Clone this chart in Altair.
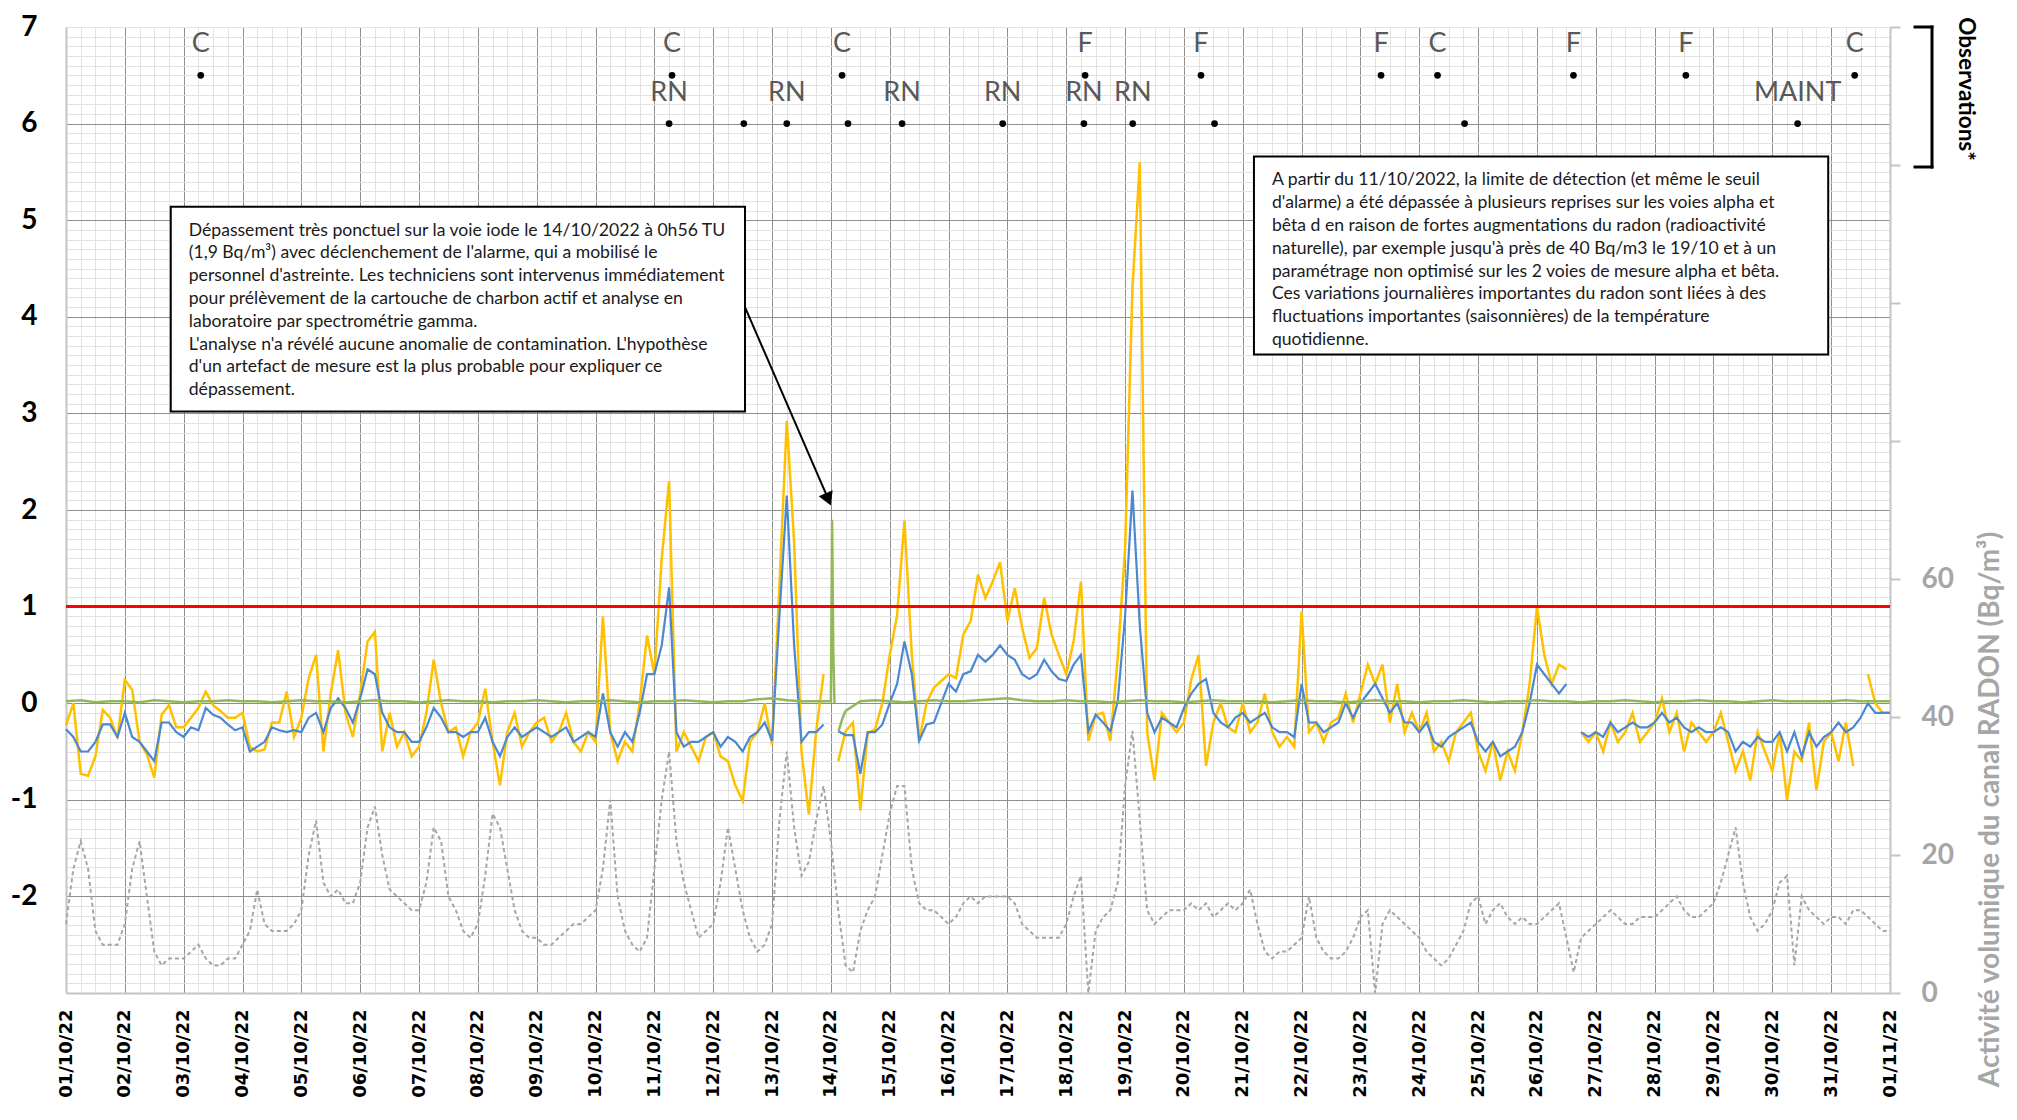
import json
import altair as alt
import pandas as pd

# ---------------- data ----------------
DAY_LABELS = ["01/10/22", "02/10/22", "03/10/22", "04/10/22", "05/10/22", "06/10/22",
              "07/10/22", "08/10/22", "09/10/22", "10/10/22", "11/10/22", "12/10/22",
              "13/10/22", "14/10/22", "15/10/22", "16/10/22", "17/10/22", "18/10/22",
              "19/10/22", "20/10/22", "21/10/22", "22/10/22", "23/10/22", "24/10/22",
              "25/10/22", "26/10/22", "27/10/22", "28/10/22", "29/10/22", "30/10/22",
              "31/10/22", "01/11/22"]

# 3-hourly values (8 per day), day offset from 01/10/22 00h
yellow = [
    -0.23, 0.0, -0.73, -0.75, -0.55, -0.07, -0.15, -0.36,
    0.24, 0.14, -0.4, -0.53, -0.77, -0.12, -0.02, -0.25,
    -0.25, -0.15, -0.05, 0.12, -0.02, -0.08, -0.15, -0.15,
    -0.1, -0.45, -0.5, -0.48, -0.2, -0.2, 0.12, -0.35,
    -0.15, 0.26, 0.5, -0.5, 0.1, 0.55, -0.1, -0.35,
    0.1, 0.64, 0.74, -0.5, -0.1, -0.45, -0.3, -0.55,
    -0.45, -0.1, 0.45, 0.0, -0.3, -0.25, -0.55, -0.3,
    -0.2, 0.15, -0.4, -0.85, -0.3, -0.1, -0.45, -0.3,
    -0.2, -0.15, -0.4, -0.3, -0.1, -0.4, -0.5, -0.3,
    -0.4, 0.9, -0.3, -0.6, -0.4, -0.5, 0.0, 0.7,
    0.3, 1.5, 2.3, -0.5, -0.3, -0.45, -0.6, -0.35,
    -0.3, -0.55, -0.6, -0.85, -1.01, -0.4, -0.3, 0.0,
    -0.43, 1.22, 2.92, 1.67, -0.5, -1.15, -0.29, 0.3,
    None, -0.6, -0.29, -0.2, -1.11, -0.31, -0.27, 0.0,
    0.5, 0.91, 1.89, 0.5, -0.39, 0.0, 0.16, 0.23,
    0.3, 0.26, 0.71, 0.85, 1.33, 1.09, 1.26, 1.46,
    0.85, 1.19, 0.78, 0.47, 0.57, 1.09, 0.71, 0.5,
    0.3, 0.64, 1.26, -0.39, -0.12, -0.1, -0.39, 0.47,
    1.6, 4.3, 5.6, -0.3, -0.8, -0.1, -0.2, -0.3,
    -0.2, 0.25, 0.5, -0.65, -0.2, 0.0, -0.25, -0.3,
    0.0, -0.3, -0.2, 0.1, -0.3, -0.45, -0.35, -0.45,
    0.95, -0.3, -0.2, -0.4, -0.2, -0.15, 0.1, -0.2,
    0.1, 0.4, 0.2, 0.4, -0.2, 0.2, -0.3, -0.1,
    -0.3, -0.1, -0.5, -0.4, -0.6, -0.3, -0.2, -0.1,
    -0.5, -0.7, -0.4, -0.8, -0.5, -0.7, -0.3, 0.2,
    1.0, 0.5, 0.2, 0.4, 0.35, None, -0.3, -0.4,
    -0.3, -0.5, -0.2, -0.4, -0.3, -0.1, -0.4, -0.3,
    -0.2, 0.05, -0.3, -0.1, -0.5, -0.2, -0.3, -0.4,
    -0.3, -0.1, -0.4, -0.7, -0.5, -0.8, -0.3, -0.5,
    -0.7, -0.3, -1.0, -0.5, -0.6, -0.2, -0.9, -0.4,
    -0.3, -0.6, -0.2, -0.65, None, 0.3, 0.0, -0.1,
    -0.1,
]

blue = [
    -0.27, -0.35, -0.5, -0.5, -0.4, -0.22, -0.22, -0.35,
    -0.1, -0.35, -0.4, -0.5, -0.6, -0.2, -0.2, -0.3,
    -0.35, -0.25, -0.28, -0.05, -0.12, -0.15, -0.22, -0.28,
    -0.25, -0.5, -0.45, -0.4, -0.25, -0.28, -0.3, -0.28,
    -0.3, -0.15, -0.1, -0.3, -0.05, 0.05, -0.05, -0.2,
    0.05, 0.35, 0.3, -0.1, -0.25, -0.3, -0.3, -0.4,
    -0.4, -0.25, -0.05, -0.15, -0.3, -0.3, -0.35, -0.3,
    -0.3, -0.15, -0.4, -0.55, -0.35, -0.25, -0.35, -0.3,
    -0.25, -0.3, -0.35, -0.3, -0.25, -0.4, -0.35, -0.3,
    -0.35, 0.1, -0.3, -0.45, -0.3, -0.4, -0.1, 0.3,
    0.3, 0.6, 1.2, -0.3, -0.45, -0.4, -0.4, -0.35,
    -0.3, -0.45, -0.35, -0.4, -0.5, -0.35, -0.3, -0.2,
    -0.39, 0.9, 2.15, 0.6, -0.4, -0.3, -0.3, -0.22,
    None, -0.29, -0.33, -0.33, -0.73, -0.3, -0.3, -0.22,
    0.0, 0.2, 0.64, 0.3, -0.39, -0.22, -0.2, 0.0,
    0.2, 0.12, 0.3, 0.33, 0.5, 0.43, 0.5, 0.6,
    0.5, 0.45, 0.3, 0.25, 0.3, 0.45, 0.33, 0.25,
    0.23, 0.4, 0.5, -0.29, -0.12, -0.2, -0.29, 0.02,
    0.9, 2.2, 0.8, -0.1, -0.3, -0.15, -0.2, -0.25,
    -0.05, 0.1, 0.2, 0.25, -0.1, -0.2, -0.25, -0.15,
    -0.1, -0.2, -0.15, -0.1, -0.25, -0.3, -0.3, -0.35,
    0.2, -0.2, -0.2, -0.3, -0.25, -0.2, 0.0, -0.15,
    0.0, 0.1, 0.2, 0.05, -0.1, 0.0, -0.2, -0.2,
    -0.3, -0.2, -0.4, -0.45, -0.35, -0.3, -0.25, -0.2,
    -0.4, -0.5, -0.4, -0.55, -0.5, -0.45, -0.3, 0.0,
    0.4, 0.3, 0.2, 0.1, 0.2, None, -0.3, -0.35,
    -0.3, -0.35, -0.2, -0.3, -0.25, -0.2, -0.25, -0.25,
    -0.2, -0.1, -0.2, -0.15, -0.25, -0.3, -0.25, -0.3,
    -0.3, -0.25, -0.3, -0.5, -0.4, -0.45, -0.35, -0.4,
    -0.4, -0.3, -0.5, -0.3, -0.55, -0.3, -0.45, -0.35,
    -0.3, -0.2, -0.3, -0.25, -0.15, 0.0, -0.1, -0.1,
    -0.1,
]

# radon channel (right axis, Bq/m3), 3-hourly
radon = [
    10, 18, 22, 18, 9, 7, 7, 7,
    10, 18, 22, 14, 6, 4, 5, 5,
    5, 6, 7, 5, 4, 4, 5, 5,
    7, 9, 15, 10, 9, 9, 9, 10,
    12, 20, 25, 16, 14, 15, 13, 13,
    16, 24, 27, 20, 15, 14, 13, 12,
    12, 16, 24, 22, 14, 12, 9, 8,
    10, 17, 26, 24, 18, 12, 9, 8,
    8, 7, 7, 8, 9, 10, 10, 11,
    12, 18, 28, 14, 9, 7, 6, 8,
    18, 28, 35, 22, 16, 12, 8, 9,
    10, 16, 24, 18, 12, 8, 6, 7,
    10, 25, 35, 24, 17, 19, 25, 30,
    22, 12, 4, 3, 9, 12, 14, 20,
    26, 30, 30, 18, 13, 12, 12, 11,
    10, 11, 13, 14, 13, 14, 14, 14,
    14, 13, 10, 9, 8, 8, 8, 8,
    10, 14, 17, 0, 9, 11, 12, 16,
    30, 38, 25, 12, 10, 11, 12, 12,
    12, 13, 12, 13, 11, 12, 13, 12,
    13, 15, 10, 6, 5, 6, 6, 7,
    8, 14, 8, 6, 5, 5, 6, 8,
    11, 12, 0, 10, 12, 11, 10, 9,
    8, 6, 5, 4, 5, 7, 9, 13,
    14, 10, 12, 13, 11, 10, 11, 10,
    10, 11, 12, 13, 8, 3, 8, 9,
    10, 11, 12, 11, 10, 10, 11, 11,
    11, 12, 13, 14, 12, 11, 11, 12,
    13, 16, 20, 24, 16, 11, 9, 10,
    12, 16, 17, 4, 14, 12, 11, 10,
    11, 11, 10, 12, 12, 11, 10, 9,
    9,
]

# iodine channel (green), 6-hourly
green = [
    0.02, 0.03, 0.01, 0.02,  0.02, 0.01, 0.03, 0.02,  0.01, 0.02, 0.02, 0.03,
    0.02, 0.02, 0.01, 0.02,  0.03, 0.02, 0.02, 0.01,  0.02, 0.03, 0.02, 0.02,
    0.01, 0.02, 0.03, 0.02,  0.02, 0.01, 0.02, 0.02,  0.03, 0.02, 0.01, 0.02,
    0.02, 0.03, 0.02, 0.01,  0.02, 0.02, 0.03, 0.02,  0.01, 0.02, 0.02, 0.04,
    0.05, 0.03, 0.02, 0.02,  0.02, -0.08, 0.02, 0.03,  0.02, 0.01, 0.02, 0.03,
    0.02, 0.02, 0.03, 0.04,  0.05, 0.03, 0.02, 0.02,  0.03, 0.02, 0.02, 0.01,
    0.02, 0.03, 0.02, 0.02,  0.01, 0.02, 0.03, 0.02,  0.02, 0.02, 0.01, 0.02,
    0.03, 0.02, 0.02, 0.01,  0.02, 0.03, 0.02, 0.02,  0.01, 0.02, 0.02, 0.03,
    0.02, 0.01, 0.02, 0.02,  0.03, 0.02, 0.02, 0.01,  0.02, 0.02, 0.03, 0.02,
    0.01, 0.02, 0.02, 0.03,  0.02, 0.02, 0.01, 0.02,  0.03, 0.02, 0.02, 0.02,
    0.02, 0.03, 0.02, 0.02,
    0.02,
]
# alarm event of 14/10 00h56 (extra points)
green_extra_t = [13.02, 13.04, 13.06, 13.09, 13.13, 13.2]
green_extra_v = [1.9, 0.57, 0.0, None, -0.29, -0.15]

# observations
obs_c_t = [2.29, 10.30, 13.19, 17.32, 19.29, 22.35, 23.31, 25.62, 27.53, 30.40]
obs_c_lbl = ["C", "C", "C", "F", "F", "F", "C", "F", "F", "C"]
obs_c_v = [6.5] * len(obs_c_t)
obs_r_t = [10.25, 11.52, 12.25, 13.29, 14.21, 15.92, 17.30, 18.13, 19.52, 23.77, 29.43]
obs_r_lbl = ["RN", "", "RN", "", "RN", "RN", "RN", "RN", "", "", "MAINT"]
obs_r_v = [6.0] * len(obs_r_t)

ALARM = [1.0]

TEXT1 = ("Dépassement très ponctuel sur la voie iode le 14/10/2022 à 0h56 TU\n"
         "(1,9 Bq/m³) avec déclenchement de l'alarme, qui a mobilisé le\n"
         "personnel d'astreinte. Les techniciens sont intervenus immédiatement\n"
         "pour prélèvement de la cartouche de charbon actif et  analyse en\n"
         "laboratoire par spectrométrie gamma.\n"
         "L'analyse n'a révélé aucune anomalie de contamination. L'hypothèse\n"
         "d'un artefact de mesure est la plus probable pour expliquer ce\n"
         "dépassement.")
TEXT2 = ("A partir du 11/10/2022, la limite de détection (et même le seuil\n"
         "d'alarme) a été dépassée à plusieurs reprises sur les voies alpha et\n"
         "bêta d en raison de fortes augmentations du radon (radioactivité\n"
         "naturelle), par exemple jusqu'à près de 40 Bq/m3 le 19/10 et à un\n"
         "paramétrage non optimisé sur les 2 voies de mesure alpha et bêta.\n"
         "Ces variations journalières importantes du radon sont liées à des\n"
         "fluctuations importantes (saisonnières) de la température\n"
         "quotidienne.")

# ---------------- frames ----------------
t3 = [i / 8 for i in range(len(yellow))]
df_main = pd.DataFrame({"t": t3, "yellow": yellow, "blue": blue, "radon": radon})
t6 = [i / 4 for i in range(len(green))]
df_green = pd.DataFrame({"t": t6 + green_extra_t, "v": green + green_extra_v}).sort_values("t")
df_c = pd.DataFrame({"t": obs_c_t, "v": obs_c_v, "lbl": obs_c_lbl})
df_r = pd.DataFrame({"t": obs_r_t, "v": obs_r_v, "lbl": obs_r_lbl})

W, H = 1824, 966
XS = alt.Scale(domain=[0, 31], nice=False, zero=False)
YS = alt.Scale(domain=[-3, 7], nice=False, zero=False)
YR = alt.Scale(domain=[0, 140], nice=False, zero=False)
FONT = "Lato"

x_vals = [i / 4 for i in range(125)]
y_vals = [round(-3 + 0.1 * i, 1) for i in range(101)]
major_x = "datum.value % 1 === 0 && datum.value > 0 && datum.value < 31"
major_y = "abs(datum.value - round(datum.value)) < 0.001 && datum.value > -2.5 && datum.value < 6.5"

grid = alt.Chart(pd.DataFrame({"t": [0.0], "v": [0.0]})).mark_point(opacity=0).encode(
    x=alt.X("t:Q", scale=XS, title=None, axis=alt.Axis(
        orient="bottom", values=x_vals, grid=True,
        gridColor={"condition": {"test": major_x, "value": "#8e8e8e"}, "value": "#e2e2e2"},
        gridWidth=1, ticks=False, domain=True, domainColor="#c4c4c4", domainWidth=2,
        labelExpr="datum.value % 1 === 0 ? " + json.dumps(DAY_LABELS) + "[datum.value] : ''",
        labelAngle=270, labelFont="DejaVu Sans", labelFontWeight="bold", labelFontSize=18,
        labelColor="#000000", labelPadding=16, labelOverlap=False, labelFlush=False, labelBound=False)),
    y=alt.Y("v:Q", scale=YS, title=None, axis=alt.Axis(
        orient="left", values=y_vals, grid=True,
        gridColor={"condition": {"test": major_y, "value": "#8e8e8e"}, "value": "#e2e2e2"},
        gridWidth=1, ticks=False, domain=True, domainColor="#c4c4c4", domainWidth=2,
        labelExpr="abs(datum.value - round(datum.value)) < 0.001 && datum.value > -2.5 ? '' + round(datum.value) : ''",
        labelFont=FONT, labelFontWeight="bold", labelFontSize=28, labelColor="#000000",
        labelPadding=29, labelOverlap=False, labelFlush=False, labelBound=False)),
)

gray = alt.Chart(df_main).mark_line(color="#a6a6a6", strokeWidth=2, strokeDash=[4, 3]).encode(
    x=alt.X("t:Q", scale=XS, axis=None),
    y=alt.Y("radon:Q", scale=YR, axis=alt.Axis(
        orient="right", values=[0, 20, 40, 60, 80, 100, 120, 140], grid=False,
        labelExpr="datum.value <= 60 ? datum.label : ''",
        ticks=True, tickColor="#c4c4c4", tickSize=10, tickWidth=2,
        domain=True, domainColor="#c4c4c4", domainWidth=2,
        labelFont=FONT, labelFontWeight="bold", labelFontSize=28, labelColor="#a6a6a6",
        labelPadding=21, labelOverlap=False, labelFlush=False,
        title="Activité volumique du canal RADON (Bq/m³)", titleFont=FONT, titleFontSize=28,
        titleFontWeight="bold", titleColor="#a6a6a6", titleAngle=270, titleX=100, titleY=782,
        titleAlign="center", titleBaseline="middle")),
)

ln_y = alt.Chart(df_main).mark_line(color="#ffc000", strokeWidth=2.5).encode(
    x=alt.X("t:Q", scale=XS, axis=None), y=alt.Y("yellow:Q", scale=YS, axis=None))
ln_b = alt.Chart(df_main).mark_line(color="#4a88d2", strokeWidth=2.2).encode(
    x=alt.X("t:Q", scale=XS, axis=None), y=alt.Y("blue:Q", scale=YS, axis=None))
ln_g = alt.Chart(df_green).mark_line(color="#92b85a", strokeWidth=2.5).encode(
    x=alt.X("t:Q", scale=XS, axis=None), y=alt.Y("v:Q", scale=YS, axis=None))

red = alt.Chart(pd.DataFrame({"v": ALARM})).mark_rule(color="#ff0000", strokeWidth=3).encode(
    y=alt.Y("v:Q", scale=YS, axis=None))

# annotation boxes (data coordinates)
boxes = pd.DataFrame({"x": [1.78, 20.19], "x2": [11.54, 29.95], "y": [5.14, 5.66], "y2": [3.02, 3.61],
                      "txt": [TEXT1, TEXT2]})
box = alt.Chart(boxes).mark_rect(fill="white", stroke="#000000", strokeWidth=2).encode(
    x=alt.X("x:Q", scale=XS, axis=None), x2="x2:Q",
    y=alt.Y("y:Q", scale=YS, axis=None), y2="y2:Q")
box_txt = alt.Chart(boxes).mark_text(align="left", baseline="top", font=FONT, fontSize=17.6,
                                      lineHeight=22.8, lineBreak="\n", color="#1a1a1a",
                                      dx=18, dy=15).encode(
    x=alt.X("x:Q", scale=XS, axis=None), y=alt.Y("y:Q", scale=YS, axis=None), text="txt:N")

arrow_df = pd.DataFrame({"x": [11.54], "x2": [12.95], "y": [4.1], "y2": [2.12]})
arrow = alt.Chart(arrow_df).mark_rule(color="#000000", strokeWidth=2).encode(
    x=alt.X("x:Q", scale=XS, axis=None), x2="x2:Q",
    y=alt.Y("y:Q", scale=YS, axis=None), y2="y2:Q")
head = alt.Chart(pd.DataFrame({"x": [12.955], "y": [2.11]})).mark_point(
    shape="triangle-up", filled=True, color="#000000", size=230, angle=157, opacity=1).encode(
    x=alt.X("x:Q", scale=XS, axis=None), y=alt.Y("y:Q", scale=YS, axis=None))

dots_c = alt.Chart(df_c).mark_point(filled=True, color="#000000", size=45, opacity=1).encode(
    x=alt.X("t:Q", scale=XS, axis=None), y=alt.Y("v:Q", scale=YS, axis=None))
lbl_c = alt.Chart(df_c).mark_text(font=FONT, fontSize=27, color="#595959", dy=-31, baseline="middle").encode(
    x=alt.X("t:Q", scale=XS, axis=None), y=alt.Y("v:Q", scale=YS, axis=None), text="lbl:N")
dots_r = alt.Chart(df_r).mark_point(filled=True, color="#000000", size=45, opacity=1).encode(
    x=alt.X("t:Q", scale=XS, axis=None), y=alt.Y("v:Q", scale=YS, axis=None))
lbl_r = alt.Chart(df_r).mark_text(font=FONT, fontSize=27, color="#595959", dy=-31, baseline="middle").encode(
    x=alt.X("t:Q", scale=XS, axis=None), y=alt.Y("v:Q", scale=YS, axis=None), text="lbl:N")

# "Observations*" bracket (pixel positions relative to plot area)
br = pd.DataFrame({"x": [1849, 1866, 1849], "x2": [1866, 1866, 1866], "y": [0, 0, 140], "y2": [0, 140, 140]})
bracket = alt.Chart(br).mark_rule(color="#000000", strokeWidth=3, strokeCap="square").encode(
    x=alt.X("x:Q", scale=None, axis=None), x2="x2:Q",
    y=alt.Y("y:Q", scale=None, axis=None), y2="y2:Q")
obs_txt = alt.Chart(pd.DataFrame({"s": ["Observations*"]})).mark_text(
    font=FONT, fontSize=22.5, fontWeight="bold", color="#000000", angle=90,
    align="center", baseline="middle").encode(
    x=alt.value(1900), y=alt.value(62), text="s:N")

chart = alt.layer(
    grid, gray, ln_y, ln_b, ln_g, red, box, box_txt, arrow, head,
    dots_c, lbl_c, dots_r, lbl_r, bracket, obs_txt
).resolve_scale(x="independent", y="independent").properties(
    width=W, height=H,
    padding={"left": 58, "top": 19, "right": 119, "bottom": 114},
    autosize=alt.AutoSizeParams(type="none"),
    background="white",
).configure_view(stroke="#c4c4c4", strokeWidth=1)

chart.save("out.html", embed_options={"renderer": "svg", "actions": False})
